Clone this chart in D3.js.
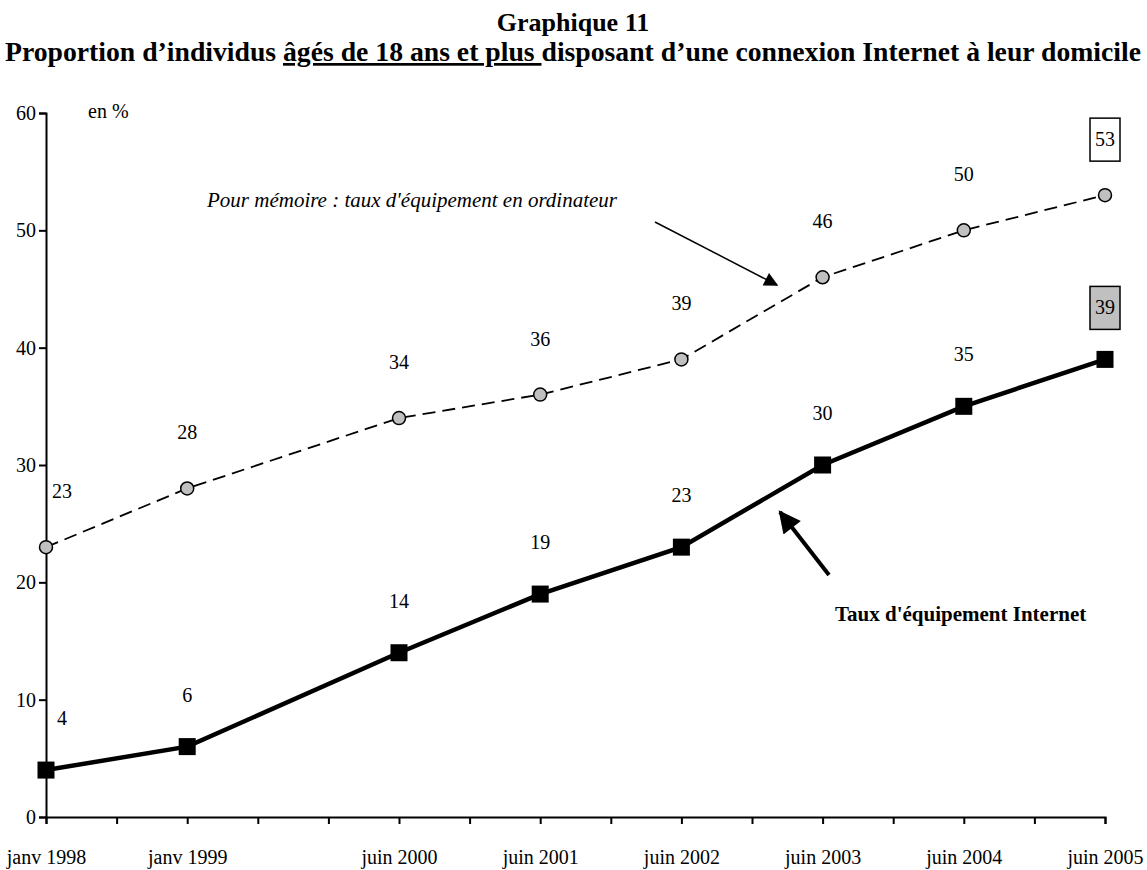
<!DOCTYPE html>
<html>
<head>
<meta charset="utf-8">
<script src="https://cdn.jsdelivr.net/npm/d3@7"></script>
<style>
  body { margin: 0; background: #fff; }
  svg text { font-family: "Liberation Serif", "Times New Roman", serif; fill: #000; }
</style>
</head>
<body>
<div id="graph"></div>
<script>
// data
const periods = ["janv 1998", "janv 1999", "juin 2000", "juin 2001", "juin 2002", "juin 2003", "juin 2004", "juin 2005"];
const periodSlot = [0, 2, 5, 7, 9, 11, 13, 15];   // position on the 16-tick axis
const ordinateur = [23, 28, 34, 36, 39, 46, 50, 53];
const internet = [4, 6, 14, 19, 23, 30, 35, 39];
const yTicks = [0, 10, 20, 30, 40, 50, 60];

const W = 1147, H = 870;
const svg = d3.select("#graph").append("svg")
  .attr("width", W)
  .attr("height", H);

// titles
svg.append("text")
  .attr("x", 573).attr("y", 31)
  .attr("text-anchor", "middle")
  .attr("font-size", 26).attr("font-weight", "bold")
  .text("Graphique 11");

const sub = svg.append("text")
  .attr("x", 573).attr("y", 61)
  .attr("text-anchor", "middle")
  .attr("font-size", 27).attr("font-weight", "bold")
  .attr("textLength", 1136)
  .attr("lengthAdjust", "spacingAndGlyphs");
sub.append("tspan").text("Proportion d\u2019individus ");
sub.append("tspan").attr("text-decoration", "underline").text("âgés de 18 ans et plus ");
sub.append("tspan").text("disposant d\u2019une connexion Internet à leur domicile");

// scales
const xScale = d3.scaleLinear().domain([0, 15]).range([46, 1105]);
const yScale = d3.scaleLinear().domain([0, 60]).range([817, 113]);

const fs = 20;

// y axis
const yAxis = d3.axisLeft(yScale).tickValues(yTicks).tickSize(7).tickPadding(3);
const yAxisSvg = svg.append("g")
  .attr("transform", `translate(${xScale(0)},0)`)
  .call(yAxis);
yAxisSvg.select(".domain").attr("stroke-width", 2);
yAxisSvg.selectAll(".tick line").attr("stroke-width", 2);
yAxisSvg.selectAll("text").attr("font-size", fs).attr("font-family", "Liberation Serif");

// x axis
const xAxis = d3.axisBottom(xScale)
  .tickValues(d3.range(16))
  .tickSize(7)
  .tickPadding(26)
  .tickFormat((d) => {
    const i = periodSlot.indexOf(d);
    return i >= 0 ? periods[i] : "";
  });
const xAxisSvg = svg.append("g")
  .attr("transform", `translate(0,${yScale(0)})`)
  .call(xAxis);
xAxisSvg.select(".domain").attr("stroke-width", 2);
xAxisSvg.selectAll(".tick line").attr("stroke-width", 2);
xAxisSvg.selectAll("text").attr("font-size", fs).attr("font-family", "Liberation Serif");

// arrow heads
const defs = svg.append("defs");
defs.append("marker")
  .attr("id", "headThin")
  .attr("viewBox", "0 0 10 10")
  .attr("refX", 9).attr("refY", 5)
  .attr("markerWidth", 16).attr("markerHeight", 14)
  .attr("markerUnits", "userSpaceOnUse")
  .attr("orient", "auto")
  .append("path").attr("d", "M0,0 L10,5 L0,10 Z").attr("fill", "#000");
defs.append("marker")
  .attr("id", "headThick")
  .attr("viewBox", "0 0 10 10")
  .attr("refX", 9).attr("refY", 5)
  .attr("markerWidth", 24).attr("markerHeight", 22)
  .attr("markerUnits", "userSpaceOnUse")
  .attr("orient", "auto")
  .append("path").attr("d", "M0,0 L10,5 L0,10 Z").attr("fill", "#000");

// lines
const line = (vals) => d3.line()
  .x((d, i) => xScale(periodSlot[i]))
  .y((d) => yScale(d))(vals);

svg.append("path")
  .attr("d", line(ordinateur))
  .attr("fill", "none")
  .attr("stroke", "#000")
  .attr("stroke-width", 1.8)
  .attr("stroke-dasharray", "13,7");

svg.append("path")
  .attr("d", line(internet))
  .attr("fill", "none")
  .attr("stroke", "#000")
  .attr("stroke-width", 4.5);

// markers
svg.selectAll(".dotOrd")
  .data(ordinateur)
  .enter()
  .append("circle")
  .attr("class", "dotOrd")
  .attr("cx", (d, i) => xScale(periodSlot[i]))
  .attr("cy", (d) => yScale(d))
  .attr("r", 6.5)
  .attr("fill", "#c0c0c0")
  .attr("stroke", "#000")
  .attr("stroke-width", 1.5);

const sq = 17;
svg.selectAll(".sqNet")
  .data(internet)
  .enter()
  .append("rect")
  .attr("class", "sqNet")
  .attr("x", (d, i) => xScale(periodSlot[i]) - sq / 2)
  .attr("y", (d) => yScale(d) - sq / 2)
  .attr("width", sq)
  .attr("height", sq)
  .attr("fill", "#000");

// value labels
const last = periods.length - 1;
function valueLabels(vals, cls, dy, boxFill) {
  // boxed last value
  const bx = xScale(periodSlot[last]);
  const by = yScale(vals[last]) - dy;
  svg.append("rect")
    .attr("x", bx - 15).attr("y", by - 21)
    .attr("width", 30).attr("height", 43)
    .attr("fill", boxFill)
    .attr("stroke", "#000")
    .attr("stroke-width", 1.5);

  svg.selectAll("." + cls)
    .data(vals)
    .enter()
    .append("text")
    .attr("class", cls)
    .attr("x", (d, i) => xScale(periodSlot[i]) + (i === 0 ? 16 : 0))
    .attr("y", (d) => yScale(d) - dy + 7)
    .attr("text-anchor", "middle")
    .attr("font-size", fs)
    .text((d) => d);
}
valueLabels(ordinateur, "lblOrd", 56, "#fff");
valueLabels(internet, "lblNet", 52, "#c0c0c0");

// annotations
svg.append("text")
  .attr("x", 88).attr("y", 118)
  .attr("font-size", fs)
  .text("en %");

svg.append("text")
  .attr("x", 412).attr("y", 207)
  .attr("text-anchor", "middle")
  .attr("font-size", 21)
  .attr("font-style", "italic")
  .text("Pour mémoire : taux d'équipement en ordinateur");

svg.append("line")
  .attr("x1", 655).attr("y1", 222)
  .attr("x2", 777).attr("y2", 285)
  .attr("stroke", "#000").attr("stroke-width", 1.5)
  .attr("marker-end", "url(#headThin)");

svg.append("line")
  .attr("x1", 829).attr("y1", 575)
  .attr("x2", 780).attr("y2", 512)
  .attr("stroke", "#000").attr("stroke-width", 4)
  .attr("marker-end", "url(#headThick)");

svg.append("text")
  .attr("x", 835).attr("y", 621)
  .attr("font-size", 21)
  .attr("font-weight", "bold")
  .text("Taux d'équipement Internet");
</script>
</body>
</html>
